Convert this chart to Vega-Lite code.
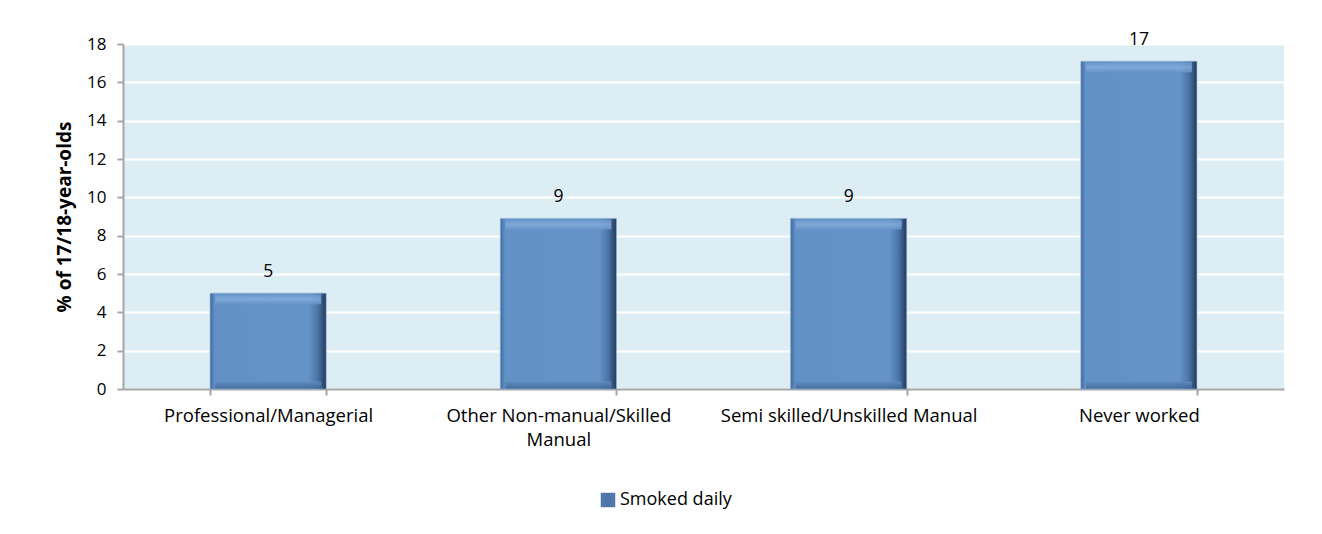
{
  "$schema": "https://vega.github.io/schema/vega-lite/v6.json",
  "autosize": {"type": "none"},
  "width": 1161,
  "height": 345,
  "padding": {"left": 123, "top": 44, "right": 38, "bottom": 145},
  "background": "white",
  "config": {
    "font": "Open Sans",
    "view": {"fill": "#dcedf4", "stroke": null},
    "axis": {"labelFont": "Open Sans", "titleFont": "Open Sans", "labelColor": "#000000", "titleColor": "#000000"}
  },
  "data": {
    "values": [
      {"category": "Professional/Managerial", "value": 5.0, "series": "Smoked daily"},
      {"category": "Other Non-manual/Skilled Manual", "value": 8.9, "series": "Smoked daily"},
      {"category": "Semi skilled/Unskilled Manual", "value": 8.9, "series": "Smoked daily"},
      {"category": "Never worked", "value": 17.1, "series": "Smoked daily"}
    ]
  },
  "encoding": {
    "x": {
      "field": "category",
      "type": "nominal",
      "sort": null,
      "scale": {"paddingInner": 0.6, "paddingOuter": 0.3},
      "axis": {
        "title": null,
        "labelAngle": 0,
        "labelFontSize": 18.5,
        "labelPadding": 11,
        "labelLimit": 400,
        "tickBand": "extent",
        "tickSize": 6,
        "tickColor": "#a6a6a6",
        "tickWidth": 2,
        "domainColor": "#a6a6a6",
        "domainWidth": 2,
        "grid": false,
        "labelExpr": "datum.label == 'Other Non-manual/Skilled Manual' ? ['Other Non-manual/Skilled', 'Manual'] : datum.label",
        "labelLineHeight": 24
      }
    },
    "y": {
      "field": "value",
      "type": "quantitative",
      "scale": {"domain": [0, 18], "nice": false},
      "axis": {
        "title": "% of 17/18-year-olds",
        "titleFontSize": 19,
        "titleFontWeight": "bold",
        "titlePadding": 12,
        "values": [0, 2, 4, 6, 8, 10, 12, 14, 16, 18],
        "labelFontSize": 17,
        "labelPadding": 11,
        "tickSize": 6,
        "tickColor": "#a6a6a6",
        "tickWidth": 2,
        "domainColor": "#a6a6a6",
        "domainWidth": 2,
        "gridColor": "#ffffff",
        "gridWidth": 2
      }
    }
  },
  "layer": [
    {
      "mark": {
        "type": "bar",
        "stroke": "#8fb0d6",
        "strokeWidth": 0.6,
        "color": {
          "gradient": "linear",
          "x1": 0, "y1": 0, "x2": 1, "y2": 0,
          "stops": [
            {"offset": 0, "color": "#40699c"},
            {"offset": 0.04, "color": "#6191c6"},
            {"offset": 0.85, "color": "#6593c7"},
            {"offset": 0.93, "color": "#4a74a6"},
            {"offset": 1, "color": "#22395a"}
          ]
        }
      }
    },
    {
      "mark": {
        "type": "tick",
        "thickness": 10,
        "size": 106,
        "yOffset": 6,
        "color": {
          "gradient": "linear",
          "x1": 0, "y1": 0, "x2": 0, "y2": 1,
          "stops": [
            {"offset": 0, "color": "#6a97cc"},
            {"offset": 0.5, "color": "#82acdb"},
            {"offset": 1, "color": "#6996ca"}
          ]
        },
        "opacity": 0.85
      }
    },
    {
      "mark": {
        "type": "tick",
        "thickness": 7,
        "size": 106,
        "yOffset": -4,
        "color": {
          "gradient": "linear",
          "x1": 0, "y1": 0, "x2": 0, "y2": 1,
          "stops": [
            {"offset": 0, "color": "#5f8cbf"},
            {"offset": 1, "color": "#3f6796"}
          ]
        },
        "opacity": 0.85
      },
      "encoding": {"y": {"datum": 0}}
    },
    {
      "mark": {"type": "bar", "opacity": 0},
      "encoding": {
        "fill": {
          "field": "series",
          "type": "nominal",
          "scale": {"range": ["#4f77aa"]},
          "legend": {
            "title": null,
            "orient": "none",
            "legendX": 476,
            "legendY": 447,
            "symbolType": "square",
            "symbolSize": 210,
            "symbolOpacity": 1,
            "symbolStrokeWidth": 0,
            "labelFont": "Open Sans",
            "labelFontSize": 18,
            "labelColor": "#000000",
            "labelOffset": 3
          }
        }
      }
    },
    {
      "mark": {"type": "text", "dy": -21, "fontSize": 17.5, "font": "Open Sans", "color": "#000000"},
      "encoding": {"text": {"field": "value", "type": "quantitative", "format": ".0f"}}
    }
  ]
}
